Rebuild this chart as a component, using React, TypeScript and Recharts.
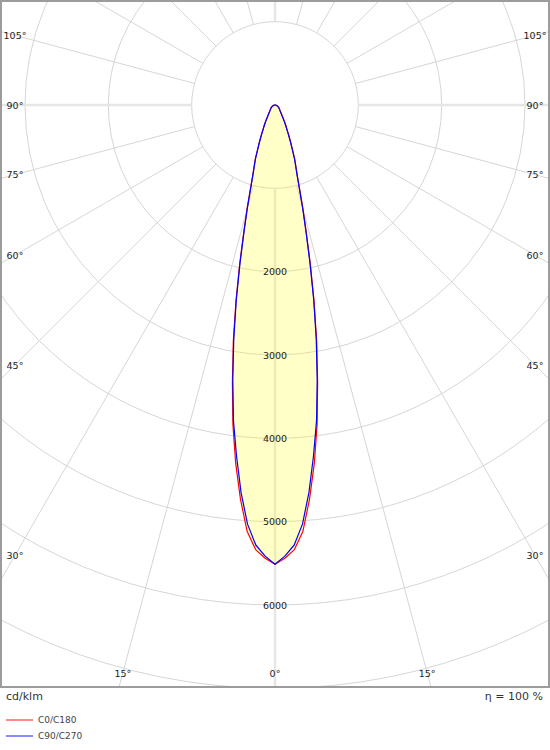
import { RadarChart, Radar, PolarGrid, PolarAngleAxis, PolarRadiusAxis } from "recharts";

// luminous intensity in cd/klm, every 1.25° from nadir (0°) up to zenith (180°), 8 values per 10°
const c0c180 = [
  5510, 5440, 5340, 5125, 4750, 4330, 3870, 3360,
  2880, 2400, 1960, 1580, 1300, 1060, 890, 780,
  690, 580, 500, 430, 370, 320, 285, 250,
  220, 195, 170, 152, 138, 126, 115, 107,
  100, 95, 90, 86, 82, 78, 75, 71,
  68, 65, 62, 59, 56, 53, 50, 47,
  45, 42, 40, 37, 35, 32, 30, 28,
  26, 24, 22, 20, 18, 16, 14, 12,
  11, 9, 8, 6, 5, 3, 2, 1,
  0, 0, 0, 0, 0, 0, 0, 0,
  0, 0, 0, 0, 0, 0, 0, 0,
  0, 0, 0, 0, 0, 0, 0, 0,
  0, 0, 0, 0, 0, 0, 0, 0,
  0, 0, 0, 0, 0, 0, 0, 0,
  0, 0, 0, 0, 0, 0, 0, 0,
  0, 0, 0, 0, 0, 0, 0, 0,
  0, 0, 0, 0, 0, 0, 0, 0,
  0, 0, 0, 0, 0, 0, 0, 0,
  0,
];

const c90c270 = [
  5510, 5415, 5285, 5040, 4670, 4240, 3820, 3330,
  2850, 2380, 1940, 1565, 1285, 1050, 880, 772,
  683, 575, 495, 426, 366, 316, 281, 247,
  217, 192, 167, 150, 136, 124, 113, 105,
  98, 93, 88, 84, 80, 76, 73, 69,
  66, 63, 60, 57, 54, 51, 49, 46,
  44, 41, 39, 36, 34, 31, 29, 27,
  25, 23, 21, 19, 17, 15, 13, 11,
  10, 8, 7, 5, 4, 3, 2, 1,
  0, 0, 0, 0, 0, 0, 0, 0,
  0, 0, 0, 0, 0, 0, 0, 0,
  0, 0, 0, 0, 0, 0, 0, 0,
  0, 0, 0, 0, 0, 0, 0, 0,
  0, 0, 0, 0, 0, 0, 0, 0,
  0, 0, 0, 0, 0, 0, 0, 0,
  0, 0, 0, 0, 0, 0, 0, 0,
  0, 0, 0, 0, 0, 0, 0, 0,
  0, 0, 0, 0, 0, 0, 0, 0,
  0,
];

// measuring angles that go with the values above
const gammaAngles = c0c180.map((_, i) => i * 1.25);

const radiusTicks = [1000, 2000, 3000, 4000, 5000, 6000, 7000, 8000];
const radiusLabels = [2000, 3000, 4000, 5000, 6000];
const angleLabels = [0, 15, 30, 45, 60, 75, 90, 105];

const series = [
  { key: "c0", name: "C0/C180", stroke: "#ff0000", legend: "#ff8a8a" },
  { key: "c90", name: "C90/C270", stroke: "#0000ff", legend: "#8a8aff" },
];

const W = 550;
const H = 688;
const CX = 275;
const CY = 105;
const START = -90; // nadir at the bottom
const FONT = "'DejaVu Sans', Verdana, sans-serif";
// labels sit where the 15° rays meet this inner box
const LABEL_BOX = { left: 15, right: 535, top: 14, bottom: 673 };

// right half goes 0° -> 180°, left half comes back down to 1.25°
const rightRows = gammaAngles.map((g, i) => ({ key: `R${g}`, side: 1, gamma: g, c0: c0c180[i], c90: c90c270[i] }));
const leftRows = gammaAngles
  .map((g, i) => ({ key: `L${g}`, side: -1, gamma: g, c0: c0c180[i], c90: c90c270[i] }))
  .slice(1, -1)
  .reverse();
const data = [...rightRows, ...leftRows];
const rowByKey = new Map(data.map((r) => [r.key, r]));

// radar points get shifted by one band, so start the axis one step earlier
const STEP = 360 / data.length;

const gridAngles = Array.from({ length: 24 }, (_, i) => i * 15);

const renderAngleTick = (props: any) => {
  const row = rowByKey.get(props.payload?.value);
  if (!row || !angleLabels.includes(row.gamma)) return <g />;
  const a = ((START + row.side * row.gamma) * Math.PI) / 180;
  const ux = Math.cos(-a);
  const uy = Math.sin(-a);
  const ts: number[] = [];
  if (ux < -1e-6) ts.push((LABEL_BOX.left - CX) / ux);
  if (ux > 1e-6) ts.push((LABEL_BOX.right - CX) / ux);
  if (uy > 1e-6) ts.push((LABEL_BOX.bottom - CY) / uy);
  if (uy < -1e-6) ts.push((LABEL_BOX.top - CY) / uy);
  const t = Math.min(...ts);
  return (
    <text x={CX + ux * t} y={CY + uy * t} textAnchor="middle" dominantBaseline="central"
      fontSize={9.5} fill="#222" fontFamily={FONT}>
      {row.gamma}°
    </text>
  );
};

const renderRadiusTick = (props: any) => {
  const { x, y, payload } = props;
  if (!radiusLabels.includes(payload?.value)) return <g />;
  return (
    <text x={x} y={y} textAnchor="middle" dominantBaseline="central" fontSize={9.5} fill="#222" fontFamily={FONT}>
      {payload.value}
    </text>
  );
};

export default function App() {
  return (
    <div style={{ position: "absolute", left: 0, top: 0, width: 550, height: 750, background: "#fff", fontFamily: FONT }}>
      <style>{".recharts-surface path { stroke-linejoin: round !important; stroke-miterlimit: 1 !important; }"}</style>
      <div style={{ position: "absolute", left: 0, top: 0, width: W, height: H, overflow: "hidden" }}>
        <RadarChart
          width={W}
          height={H}
          data={data}
          cx={CX}
          cy={CY}
          innerRadius={1000 / 12}
          outerRadius={8000 / 12}
          startAngle={START - STEP}
          endAngle={START - STEP + 360}
          margin={{ top: 0, right: 0, bottom: 0, left: 0 }}
        >
          <PolarGrid gridType="circle" polarAngles={gridAngles} stroke="#d6d6d6" strokeWidth={1} />
          <PolarGrid gridType="circle" polarAngles={[0, 90, 180, 270]} polarRadius={[]} stroke="#e6e6e6" strokeWidth={2.5} />
          <Radar
            name={series[0].name}
            dataKey={series[0].key}
            stroke={series[0].stroke}
            strokeWidth={1.2}
            strokeLinejoin="round"
            fill="#ffff00"
            fillOpacity={0.22}
            dot={false}
            activeDot={false}
            isAnimationActive={false}
          />
          <Radar
            name={series[1].name}
            dataKey={series[1].key}
            stroke={series[1].stroke}
            strokeWidth={1.2}
            strokeLinejoin="round"
            fill="none"
            fillOpacity={0}
            dot={false}
            activeDot={false}
            isAnimationActive={false}
          />
          <PolarAngleAxis dataKey="key" axisLine={false} tickLine={false} tick={renderAngleTick} />
          <PolarRadiusAxis
            type="number"
            angle={-90}
            domain={[1000, 8000]}
            allowDataOverflow
            ticks={radiusTicks}
            axisLine={false}
            tick={renderRadiusTick}
          />
        </RadarChart>
      </div>
      <div style={{ position: "absolute", left: 0, top: 0, width: W, height: H, border: "2px solid #9c9c9c", boxSizing: "border-box", pointerEvents: "none" }} />
      <div style={{ position: "absolute", left: 6, top: 690, fontSize: 11, lineHeight: "14px", color: "#333" }}>cd/klm</div>
      <div style={{ position: "absolute", right: 7, top: 690, fontSize: 11, lineHeight: "14px", color: "#333" }}>η = 100 %</div>
      {series.map((s, i) => (
        <div key={s.key} style={{ position: "absolute", left: 6, top: 714 + i * 16, height: 12, display: "flex", alignItems: "center" }}>
          <span style={{ display: "inline-block", width: 27, height: 2, background: s.legend }} />
          <span style={{ marginLeft: 5, fontSize: 9, color: "#444" }}>{s.name}</span>
        </div>
      ))}
    </div>
  );
}
